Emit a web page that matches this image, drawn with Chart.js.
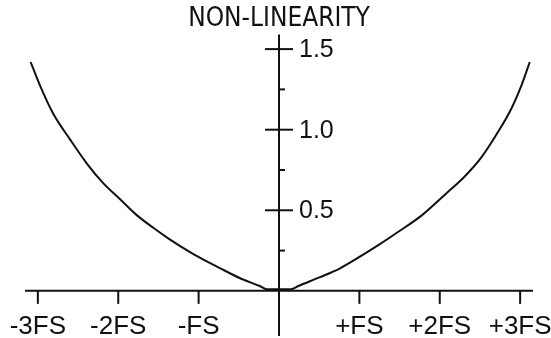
<!DOCTYPE html>
<html>
<head>
<meta charset="utf-8">
<title>NON-LINEARITY</title>
<script src="https://cdn.jsdelivr.net/npm/chart.js@4.4.1/dist/chart.umd.min.js"></script>
<style>
    html, body { margin: 0; padding: 0; background: #fff; }
    #wrap { width: 551px; height: 338px; }
</style>
</head>
<body>
<div id="wrap"><canvas id="chartNonLinearity" width="551" height="338"></canvas></div>
<script>
// curva de não-linearidade, em unidades de fundo de escala (FS)
const inputFS = [-3.09, -2.97, -2.81, -2.60, -2.39, -2.19, -1.98, -1.77, -1.56, -1.36, -1.07,
                 -0.73, -0.49, -0.24, -0.15, 0, 0.15, 0.24, 0.51, 0.76, 0.95, 1.24, 1.48,
                 1.78, 2.07, 2.31, 2.52, 2.73, 2.89, 3.02, 3.12];
const erroNL = [1.42, 1.27, 1.10, 0.94, 0.79, 0.67, 0.57, 0.47, 0.39, 0.32, 0.23,
                0.14, 0.08, 0.03, 0.01, 0.01, 0.01, 0.03, 0.085, 0.14, 0.195, 0.285, 0.365,
                0.47, 0.6, 0.71, 0.83, 0.99, 1.13, 1.28, 1.42];

const xTicks = [-3, -2, -1, 1, 2, 3];
const xTickLabels = ['-3FS', '-2FS', '-FS', '+FS', '+2FS', '+3FS'];
const yTicks = [0.5, 1.0, 1.5];
const yTickLabels = ['0.5', '1.0', '1.5'];
const yMinorTicks = [0.25, 0.75, 1.25];

const COR = '#111';
const FONTE = "'Liberation Sans', Arial, sans-serif";

// eixos cruzando na origem, desenhados a partir das escalas do Chart.js
const eixosCentrais = {
    id: 'eixosCentrais',
    afterDatasetsDraw(chart) {
        const ctx = chart.ctx;
        const sx = chart.scales.x;
        const sy = chart.scales.y;
        const x0 = sx.getPixelForValue(0);
        const y0 = sy.getPixelForValue(0);

        ctx.save();
        ctx.strokeStyle = COR;
        ctx.fillStyle = COR;
        ctx.lineWidth = 2;

        ctx.beginPath();
        ctx.moveTo(sx.left, y0);
        ctx.lineTo(sx.right, y0);
        ctx.moveTo(x0, sy.top);
        ctx.lineTo(x0, sy.bottom);
        ctx.stroke();

        // marcas do eixo X
        ctx.font = '26px ' + FONTE;
        ctx.textAlign = 'center';
        ctx.textBaseline = 'alphabetic';
        xTicks.forEach((v, i) => {
            const px = sx.getPixelForValue(v);
            ctx.beginPath();
            ctx.moveTo(px, y0);
            ctx.lineTo(px, y0 + 13);
            ctx.stroke();
            ctx.fillText(xTickLabels[i], px, y0 + 43);
        });

        // marcas do eixo Y
        ctx.font = '25px ' + FONTE;
        ctx.textAlign = 'left';
        ctx.textBaseline = 'middle';
        yTicks.forEach((v, i) => {
            const py = sy.getPixelForValue(v);
            ctx.beginPath();
            ctx.moveTo(x0 - 14, py);
            ctx.lineTo(x0 + 14, py);
            ctx.stroke();
            ctx.fillText(yTickLabels[i], x0 + 20, py + 1);
        });
        yMinorTicks.forEach(v => {
            const py = sy.getPixelForValue(v);
            ctx.beginPath();
            ctx.moveTo(x0, py);
            ctx.lineTo(x0 + 6, py);
            ctx.stroke();
        });
        ctx.restore();
    }
};

const ctx = document.getElementById('chartNonLinearity').getContext('2d');
new Chart(ctx, {
    type: 'scatter',
    data: {
        datasets: [{
            data: inputFS.map((x, i) => ({ x: x, y: erroNL[i] })),
            showLine: true,
            borderColor: COR,
            borderWidth: 2,
            pointRadius: 0,
            cubicInterpolationMode: 'monotone'
        }]
    },
    options: {
        responsive: false,
        animation: false,
        layout: { padding: { left: 25, right: 18, top: 0, bottom: 2 } },
        plugins: {
            legend: { display: false },
            tooltip: { enabled: false },
            title: {
                display: true,
                text: 'NON-LINEARITY',
                color: COR,
                font: { family: "'Liberation Sans Narrow', 'DejaVu Sans Condensed', " + FONTE, size: 26, weight: 'normal', lineHeight: 1.1 },
                padding: { top: 5, bottom: 1 }
            }
        },
        scales: {
            x: { type: 'linear', display: false, min: -3.16, max: 3.16 },
            y: { type: 'linear', display: false, min: -0.28, max: 1.59 }
        }
    },
    plugins: [eixosCentrais]
});
</script>
</body>
</html>
